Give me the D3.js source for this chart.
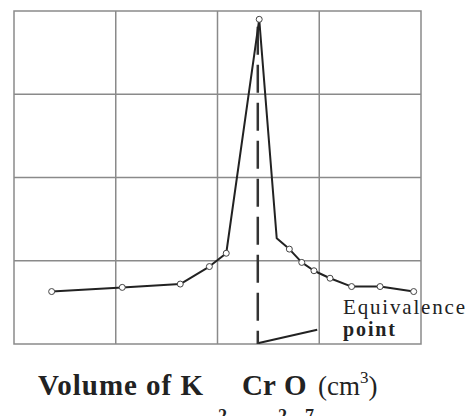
<!DOCTYPE html>
<html>
<head>
<meta charset="utf-8">
<script src="https://cdn.jsdelivr.net/npm/d3@7"></script>
<style>
  body { margin: 0; background: #fff; }
  .grid line { stroke: #8a8a8a; stroke-width: 1.5; }
  .frame { fill: none; stroke: #8a8a8a; stroke-width: 1.5; }
  .curve { fill: none; stroke: #222; stroke-width: 2; stroke-linejoin: round; }
  .dot { fill: #fff; stroke: #444; stroke-width: 1; }
  .serif { font-family: "Liberation Serif", "Times New Roman", serif; fill: #222; }
</style>
</head>
<body>
<svg width="468" height="416"></svg>
<script>
// conductometric titration readings (arbitrary units)
const volume = [1.85, 5.32, 8.17, 9.60, 10.43, 12.05, 12.91, 13.53, 14.14, 14.74, 15.53, 16.59, 17.99, 19.64];
const conductance = [0.63, 0.68, 0.72, 0.93, 1.09, 3.90, 1.27, 1.14, 0.98, 0.88, 0.79, 0.69, 0.69, 0.63];
const marked = [1, 1, 1, 1, 1, 1, 0, 1, 1, 1, 1, 1, 1, 1];
const xGrid = [0, 5, 10, 15, 20];
const yGrid = [0, 1, 2, 3, 4];
const equivVolume = 11.98;
const equivTop = 3.81;

const svg = d3.select('svg');
const mLeft = 14, mTop = 11, w = 407, h = 333;

const x = d3.scaleLinear().domain([0, 20]).range([mLeft, mLeft + w]);
const y = d3.scaleLinear().domain([0, 4]).range([mTop + h, mTop]);

const grid = svg.append('g').attr('class', 'grid');
grid.selectAll('.vx').data(xGrid.slice(1, -1)).enter().append('line')
  .attr('x1', d => x(d)).attr('x2', d => x(d))
  .attr('y1', y(0)).attr('y2', y(4));
grid.selectAll('.hy').data(yGrid.slice(1, -1)).enter().append('line')
  .attr('x1', x(0)).attr('x2', x(20))
  .attr('y1', d => y(d)).attr('y2', d => y(d));
svg.append('rect').attr('class', 'frame')
  .attr('x', x(0)).attr('y', y(4))
  .attr('width', x(20) - x(0)).attr('height', y(0) - y(4));

// equivalence marker (dashed drop line + pointer)
svg.append('line')
  .attr('x1', x(equivVolume)).attr('x2', x(equivVolume))
  .attr('y1', y(equivTop)).attr('y2', y(0))
  .attr('stroke', '#333').attr('stroke-width', 2.5)
  .attr('stroke-dasharray', '28,10');
svg.append('line')
  .attr('x1', x(equivVolume) + 1).attr('y1', y(0) - 1)
  .attr('x2', x(14.9)).attr('y2', y(0.17))
  .attr('stroke', '#222').attr('stroke-width', 2);

const pts = volume.map((v, i) => ({ v: v, c: conductance[i], m: marked[i] }));
const line = d3.line().x(d => x(d.v)).y(d => y(d.c));
svg.append('path').datum(pts).attr('class', 'curve').attr('d', line);
svg.selectAll('.dot').data(pts.filter(d => d.m)).enter().append('circle')
  .attr('class', 'dot')
  .attr('cx', d => x(d.v)).attr('cy', d => y(d.c)).attr('r', 3);

// labels
svg.append('text').attr('class', 'serif')
  .attr('x', 343).attr('y', 314)
  .attr('font-size', 21).attr('textLength', 122)
  .text('Equivalence');
svg.append('text').attr('class', 'serif')
  .attr('x', 343).attr('y', 336)
  .attr('font-size', 20).attr('font-weight', 'bold').attr('textLength', 52)
  .text('point');

const lab = svg.append('g').attr('class', 'serif');
lab.append('text').attr('x', 38).attr('y', 395)
  .attr('font-size', 29).attr('font-weight', 'bold').attr('textLength', 165)
  .text('Volume of K');
lab.append('text').attr('x', 242).attr('y', 395)
  .attr('font-size', 29).attr('font-weight', 'bold')
  .text('Cr');
lab.append('text').attr('x', 284).attr('y', 395)
  .attr('font-size', 29).attr('font-weight', 'bold')
  .text('O');
lab.append('text').attr('x', 218).attr('y', 422)
  .attr('font-size', 18).attr('font-weight', 'bold').text('2');
lab.append('text').attr('x', 278).attr('y', 422)
  .attr('font-size', 18).attr('font-weight', 'bold').text('2');
lab.append('text').attr('x', 305).attr('y', 422)
  .attr('font-size', 18).attr('font-weight', 'bold').text('7');
const unit = lab.append('text').attr('x', 318).attr('y', 395).attr('font-size', 27);
unit.append('tspan').text('(cm');
unit.append('tspan').attr('font-size', 17).attr('dy', -12).text('3');
unit.append('tspan').attr('dy', 12).text(')');
</script>
</body>
</html>
